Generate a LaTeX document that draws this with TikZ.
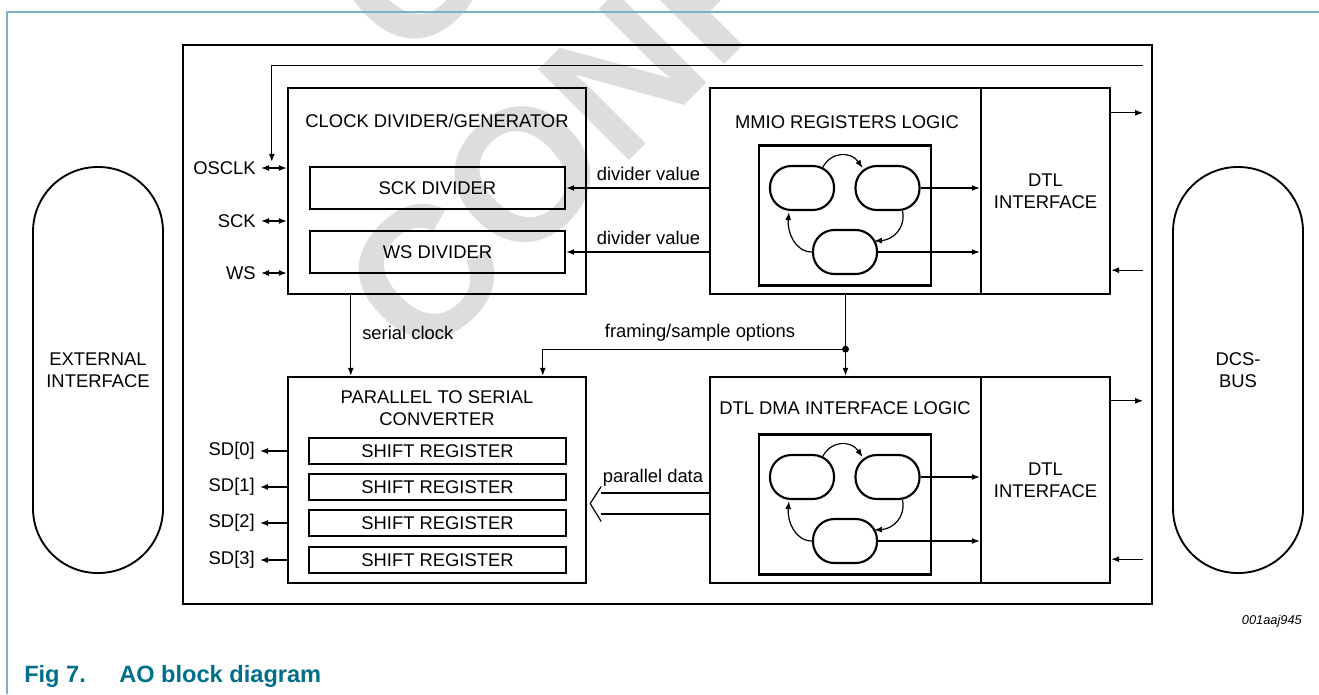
\documentclass[tikz,border=0pt]{standalone}
\usepackage{fontspec}
\setmainfont{Liberation Sans}
\usetikzlibrary{arrows.meta,calc}
\definecolor{framec}{RGB}{122,178,196}
\definecolor{captc}{RGB}{0,112,138}
\definecolor{wmc}{RGB}{221,221,221}
\newcommand\diafont{\fontsize{13.8}{16.5}\selectfont}
\tikzset{
  sz/.style 2 args={minimum width=#1*0.75pt, minimum height=#2*0.75pt},
  blk/.style={draw, line width=1.8pt, inner sep=0pt},
  outerblk/.style={draw, line width=2.1pt, inner sep=0pt},
  smbox/.style={draw, line width=1.6pt, inner sep=0pt},
  sm/.style={draw, line width=1.6pt, rounded corners=16pt, sz={64}{44}, inner sep=0pt},
  capsule/.style={draw, line width=1.4pt, rounded corners=48.5pt, sz={130}{406}, align=center, font=\diafont, inner sep=0pt},
  txt/.style={font=\diafont, inner sep=0pt, align=center},
  conn/.style={line width=0.9pt},
  arr/.style={-{Latex[length=6pt,width=4.5pt]}},
  dbl/.style={{Latex[length=6pt,width=4.5pt]}-{Latex[length=6pt,width=4.5pt]}},
  wmark/.style={text=wmc, rotate=45, inner sep=0pt, font=\fontsize{140}{140}\selectfont\bfseries},
}
\begin{document}
\begin{tikzpicture}[x=0.75pt,y=-0.75pt]
\useasboundingbox (0,0) rectangle (1319,694);
% watermark
\begin{scope}
  \clip (0,0) rectangle (1319,694);
  \node[wmark, anchor=west] (wma) at (377,322) {CONFIDENTIAL};
  \node[wmark, anchor=west] (wmb) at (362,22) {COMPANY};
\end{scope}
% page frame
\draw[framec, line width=1.5pt] (7,694) -- (7,12) -- (1319,12);

% outer block
\node[outerblk, sz={969}{559}] (ao) at (667.5,324.5) {};

% clock divider / generator
\node[blk, sz={298}{206}] (clk) at (437,191) {};
\node[txt] (clkt) at (437,121) {CLOCK DIVIDER/GENERATOR};
\node[blk, sz={255}{42}, font=\diafont] (sck) at (437.5,188) {SCK DIVIDER};
\node[blk, sz={255}{42}, font=\diafont] (wsd) at (437.5,252) {WS DIVIDER};

% MMIO
\node[blk, sz={271}{206}] (mmio) at (845.5,191) {};
\node[txt] (mmiot) at (847,122) {MMIO REGISTERS LOGIC};
\node[blk, sz={129}{206}, align=center, font=\diafont] (dtlu) at (1045.5,191) {DTL\\INTERFACE};

% parallel to serial
\node[blk, sz={298}{206}] (p2s) at (437,480) {};
\node[txt] (p2st) at (437,408.5) {PARALLEL TO SERIAL\\CONVERTER};
\foreach \i/\yy in {0/451,1/487,2/523,3/560} {
  \node[blk, sz={257}{26}, font=\diafont] (sr\i) at (437.5,\yy) {SHIFT REGISTER};
  \node[txt, anchor=east] (sd\i) at (255,\yy) {SD[\i]};
  \draw[conn,arr] (sr\i.west -| p2s.west) -- ($(sd\i.east)+(5,0)$);
}

% DMA
\node[blk, sz={271}{206}] (dma) at (845.5,480) {};
\node[txt] (dmat) at (845,408) {DTL DMA INTERFACE LOGIC};
\node[blk, sz={129}{206}, align=center, font=\diafont] (dtll) at (1045.5,480) {DTL\\INTERFACE};

% state machines
\foreach \o/\n/\t in {0/u/dtlu,289/l/dtll} {
  \node[smbox, sz={172}{140}] (smb\n) at (845,{215.5+\o}) {};
  \node[sm] (a\n) at (802,{188+\o}) {};
  \node[sm] (b\n) at (887.5,{188+\o}) {};
  \node[sm] (c\n) at (845,{252+\o}) {};
  \draw[conn,arr] (b\n.east) -- (b\n.east -| \t.west);
  \draw[conn,arr] (c\n.east) -- (c\n.east -| \t.west);
  \draw[conn,arr] ($(a\n.center)+(20,-19)$) .. controls ($(a\n.center)+(28,-37)$) and ($(b\n.center)+(-36.5,-37)$) .. ($(b\n.center)+(-25,-20)$);
  \draw[conn,arr] ($(b\n.center)+(15,23)$) .. controls ($(b\n.center)+(18.5,41)$) and ($(c\n.center)+(47,-12)$) .. ($(c\n.center)+(29,-11)$);
  \draw[conn,arr] (c\n.west) .. controls ($(c\n.center)+(-50,0)$) and ($(a\n.center)+(-15,44)$) .. ($(a\n.center)+(-13,24)$);
}

% divider value
\draw[conn,arr] (sck.east -| mmio.west) -- (sck.east);
\draw[conn,arr] (wsd.east -| mmio.west) -- (wsd.east);
\node[txt] (dv1) at (648.5,174) {divider value};
\node[txt] (dv2) at (648.5,238) {divider value};

% external clock pins
\node[txt, anchor=east] (osclk) at (256,168) {OSCLK};
\node[txt, anchor=east] (sckl) at (256,221) {SCK};
\node[txt, anchor=east] (wsl) at (256,273) {WS};
\foreach \l in {osclk,sckl,wsl}
  \draw[conn,dbl] ($(\l.east)+(5,0)$) -- (\l.east -| clk.west);

% feedback line
\coordinate (fbs) at ($(ao.north east)+(-10,22)$);
\coordinate (fbe) at ($(clk.north west)+(-15,75)$);
\draw[conn,arr] (fbs) -| (fbe);

% serial clock
\draw[conn,arr] ($(clk.south west)+(64,0)$) -- ($(p2s.north west)+(64,0)$);
\node[txt, anchor=west] (scl) at (362,333) {serial clock};

% framing / sample options
\draw[conn,arr] (mmio.south) -- (dma.north);
\coordinate (fj) at ($(mmio.south)+(0,54)$);
\fill (fj) circle[radius=2.6pt];
\draw[conn,arr] (fj) -| ($(p2s.north west)+(256,0)$);
\node[txt] (fso) at (700,333) {framing/sample options};

% parallel data
\coordinate (pd) at ($(p2s.east)+(3,23.5)$);
\path ($(pd)+(11,-10.5)$) coordinate (pd1) ($(pd)+(11,10.5)$) coordinate (pd2);
\draw[conn] ($(pd)+(11,-17)$) -- (pd) -- ($(pd)+(11,18)$);
\draw[conn] (pd1) -- (pd1 -| dma.west);
\draw[conn] (pd2) -- (pd2 -| dma.west);
\node[txt] (pdl) at (653,478) {parallel data};

% DCS-bus side arrows
\draw[conn,arr] ($(dtlu.north east)+(0,26)$) -- ++(32,0);
\draw[conn,arr] ($(dtlu.south east)+(32,-25)$) -- ++(-32,0);
\draw[conn,arr] ($(dtll.north east)+(0,25)$) -- ++(32,0);
\draw[conn,arr] ($(dtll.south east)+(32,-25)$) -- ++(-32,0);

% capsules
\node[capsule] (ext) at (98,370) {EXTERNAL\\INTERFACE};
\node[capsule] (dcs) at (1238,370) {DCS-\\BUS};

% id and caption
\node[anchor=east, inner sep=0pt, font=\fontsize{9.6}{11}\selectfont\itshape] (id) at (1302,621) {001aaj945};
\node[anchor=base west, inner sep=0pt, text=captc, font=\fontsize{17.7}{20}\selectfont\bfseries] (fig) at (24,682) {Fig 7.};
\node[anchor=base west, inner sep=0pt, text=captc, font=\fontsize{17.7}{20}\selectfont\bfseries] (cap) at (119,682) {AO block diagram};
\end{tikzpicture}
\end{document}
